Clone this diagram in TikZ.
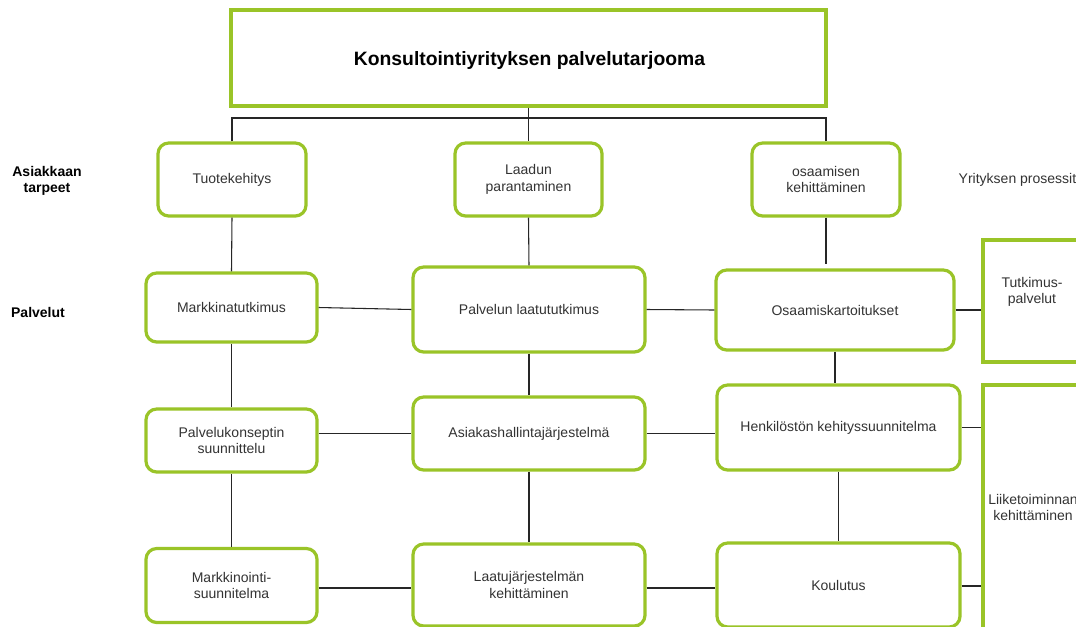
\documentclass[tikz,border=0pt]{standalone}
\usepackage{fontspec}
\setmainfont{Liberation Sans}
\begin{document}
\definecolor{boxgreen}{RGB}{154,196,40}
\definecolor{boxtext}{RGB}{51,51,51}
\begin{tikzpicture}[x=0.75pt,y=-0.75pt,
  every node/.style={font=\fontsize{10.5pt}{12.5pt}\selectfont},
  item/.style={draw=boxgreen, line width=2.4pt, rounded corners=8pt, fill=white,
    text=boxtext, align=center, inner sep=0pt},
  frame/.style={draw=boxgreen, line width=2.4pt, fill=white, align=center, inner sep=0pt},
  rowlabel/.style={font=\bfseries\fontsize{10.5pt}{12.5pt}\selectfont, align=center},
  link/.style={draw=black!85, line width=0.8pt}]
\clip (0,0) rectangle (1076,626);
\fill[white] (0,0) rectangle (1076,626);

% title box and its caption
\node[frame, minimum width=595*0.75pt, minimum height=96*0.75pt] (top) at (528.5,58) {};
\node[font=\bfseries\fontsize{14.5pt}{17pt}\selectfont] (toptext) at (529.5,60.5) {Konsultointiyrityksen palvelutarjooma};

% row labels
\node[rowlabel] (lab1) at (47,181) {Asiakkaan\\tarpeet};
\node[rowlabel] (lab2) at (38,312) {Palvelut};
\node[anchor=west, text=boxtext] (lab3) at (954,180) {Yrityksen prosessit};

% needs
\node[item, minimum width=148*0.75pt, minimum height=73*0.75pt] (n1) at (232,179.5) {Tuotekehitys};
\node[item, minimum width=147*0.75pt, minimum height=73*0.75pt] (n2) at (528.5,179.5) {Laadun\\parantaminen};
\node[item, minimum width=148*0.75pt, minimum height=73*0.75pt] (n3) at (826,179.5) {osaamisen\\kehittäminen};

% services, row 1
\node[item, minimum width=171*0.75pt, minimum height=69*0.75pt] (s1) at (231.5,307.5) {Markkinatutkimus};
\node[item, minimum width=232*0.75pt, minimum height=85*0.75pt] (s2) at (529,309.5) {Palvelun laatututkimus};
\node[item, minimum width=238*0.75pt, minimum height=80*0.75pt] (s3) at (835,310) {Osaamiskartoitukset};

% services, row 2
\node[item, minimum width=171*0.75pt, minimum height=63*0.75pt] (p1) at (231.5,440.5) {Palvelukonseptin\\suunnittelu};
\node[item, minimum width=232*0.75pt, minimum height=73*0.75pt] (p2) at (529,433.5) {Asiakashallintajärjestelmä};
\node[item, minimum width=243*0.75pt, minimum height=85*0.75pt] (p3) at (838.5,427.5) {Henkilöstön kehityssuunnitelma};

% services, row 3
\node[item, minimum width=171*0.75pt, minimum height=74*0.75pt] (q1) at (231.5,585.5) {Markkinointi-\\suunnitelma};
\node[item, minimum width=232*0.75pt, minimum height=82*0.75pt] (q2) at (529,585) {Laatujärjestelmän\\kehittäminen};
\node[item, minimum width=243*0.75pt, minimum height=84*0.75pt] (q3) at (838.5,585) {Koulutus};

% company processes
\node[frame, minimum width=100*0.75pt, minimum height=122*0.75pt] (r1) at (1033,301) {};
\node[text=boxtext, align=center] (r1t) at (1032,292) {Tutkimus-\\palvelut};
\node[frame, text=boxtext, minimum width=100*0.75pt, minimum height=245*0.75pt] (r2) at (1033,507.5) {Liiketoiminnan\\kehittäminen};

% tree from the title box
\coordinate (bus) at (528.5,118);
\draw[link] (top.south) -- (bus);
\draw[link] (n1.north) |- (bus);
\draw[link] (n3.north) |- (bus);
\draw[link] (bus) -- (n2.north);

% vertical links
\coordinate (s3stub) at (826,264);
\draw[link] (n1.south) -- (s1.north);
\draw[link] (n2.south) -- (s2.north);
\draw[link] (n3.south) -- (s3stub);
\draw[link] (s1.south) -- (p1.north);
\draw[link] (s2.south) -- (p2.north);
\draw[link] (s3.south) -- (p3.north -| s3.south);
\draw[link] (p1.south) -- (q1.north);
\draw[link] (p2.south) -- (q2.north);
\draw[link] (p3.south) -- (q3.north);

% horizontal links
\draw[link] (s1.east) -- (s2.west);
\draw[link] (s2.east) -- (s3.west);
\draw[link] (s3.east) -- (s3.east -| r1.west);
\draw[link] (p1.east |- p2.west) -- (p2.west);
\draw[link] (p2.east) -- (p3.west |- p2.east);
\draw[link] (p3.east) -- (p3.east -| r2.west);
\draw[link] (q1.east |- 0,588) -- (q2.west |- 0,588);
\draw[link] (q2.east |- 0,588) -- (q3.west |- 0,588);
\draw[link] (q3.east |- 0,586) -- (r2.west |- 0,586);
\end{tikzpicture}
\end{document}
